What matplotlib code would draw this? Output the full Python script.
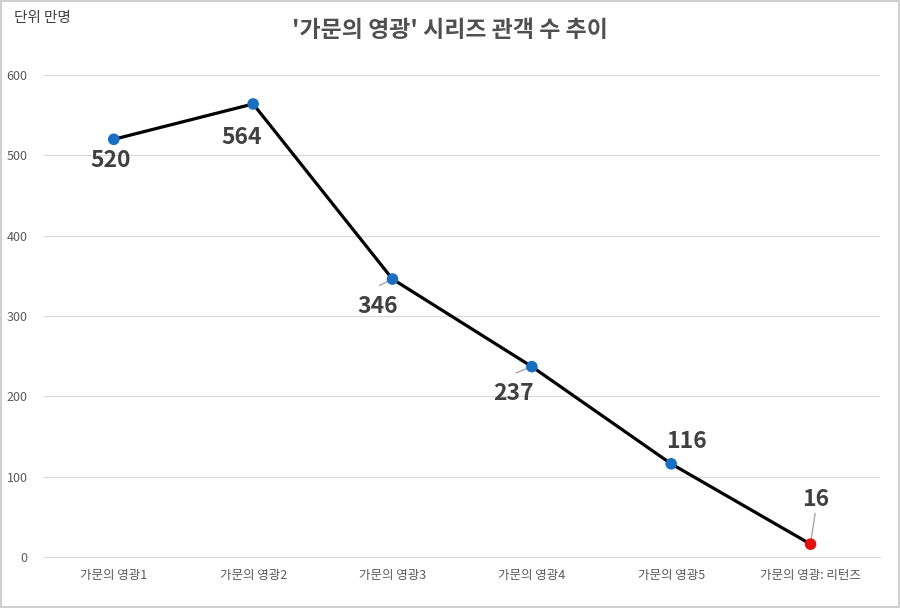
import matplotlib.pyplot as plt
import numpy as np
from matplotlib.patches import Rectangle

plt.rcParams['font.family'] = ['Noto Sans CJK KR', 'DejaVu Sans']

categories = ['가문의 영광1', '가문의 영광2', '가문의 영광3', '가문의 영광4', '가문의 영광5', '가문의 영광: 리턴즈']
audience = [520, 564, 346, 237, 116, 16]
# label offsets in pixels (dx, dy)
offsets = [(-3, -21), (-11, -34), (-15, -27), (-18, -27), (15, 22), (5, 45)]
# leader line anchor on the label (None = no leader)
leaders = [None, None, (0.55, 1.4), (0.55, 1.4), None, (0.5, 0.0)]

fig = plt.figure(figsize=(9, 6.08), dpi=100)
ax = fig.add_axes([0.049, 0.0839, 0.929, 0.7927])

x = np.arange(len(categories))
ax.plot(x, audience, color='black', lw=2.3, zorder=2)
colors = ['#1a6fc0'] * (len(x) - 1) + ['#e41010']
ax.scatter(x, audience, s=70, c=colors, zorder=3, edgecolors='none')

for i, v in enumerate(audience):
    dx, dy = offsets[i]
    props = None
    if leaders[i] is not None:
        props = dict(arrowstyle='-', color='#a6a6a6', lw=1.0, relpos=leaders[i],
                     shrinkA=0, shrinkB=2)
    ax.annotate(str(v), (i, v), xytext=(dx, dy), textcoords='offset pixels',
                ha='center', va='center', fontsize=16.5, fontweight='bold', color='#404040',
                arrowprops=props, zorder=1)

ax.set_xlim(-0.5, len(x) - 0.5)
ax.set_ylim(0, 600)
ax.set_yticks(range(0, 601, 100))
ax.set_xticks(x)
ax.set_xticklabels(categories)
ax.grid(axis='y', color='#d9d9d9', lw=0.9)
ax.set_axisbelow(True)
for s in ax.spines.values():
    s.set_visible(False)
ax.spines['bottom'].set_visible(True)
ax.spines['bottom'].set_color('#d9d9d9')
ax.tick_params(length=0, labelsize=9, colors='#595959')
ax.tick_params(axis='x', pad=9)
ax.tick_params(axis='y', pad=12)

fig.text(0.5, 0.95, "'가문의 영광' 시리즈 관객 수 추이", ha='center', va='center',
         fontsize=16.5, color='#505050', fontweight='bold')
fig.text(0.015, 0.97, '단위 만명', ha='left', va='center', fontsize=10.5, color='#404040')

fig.patches.append(Rectangle((0.001, 0.001), 0.998, 0.998, transform=fig.transFigure,
                             fill=False, edgecolor='#d0d0d0', lw=1.5))

fig.savefig('out.png', dpi=100)
